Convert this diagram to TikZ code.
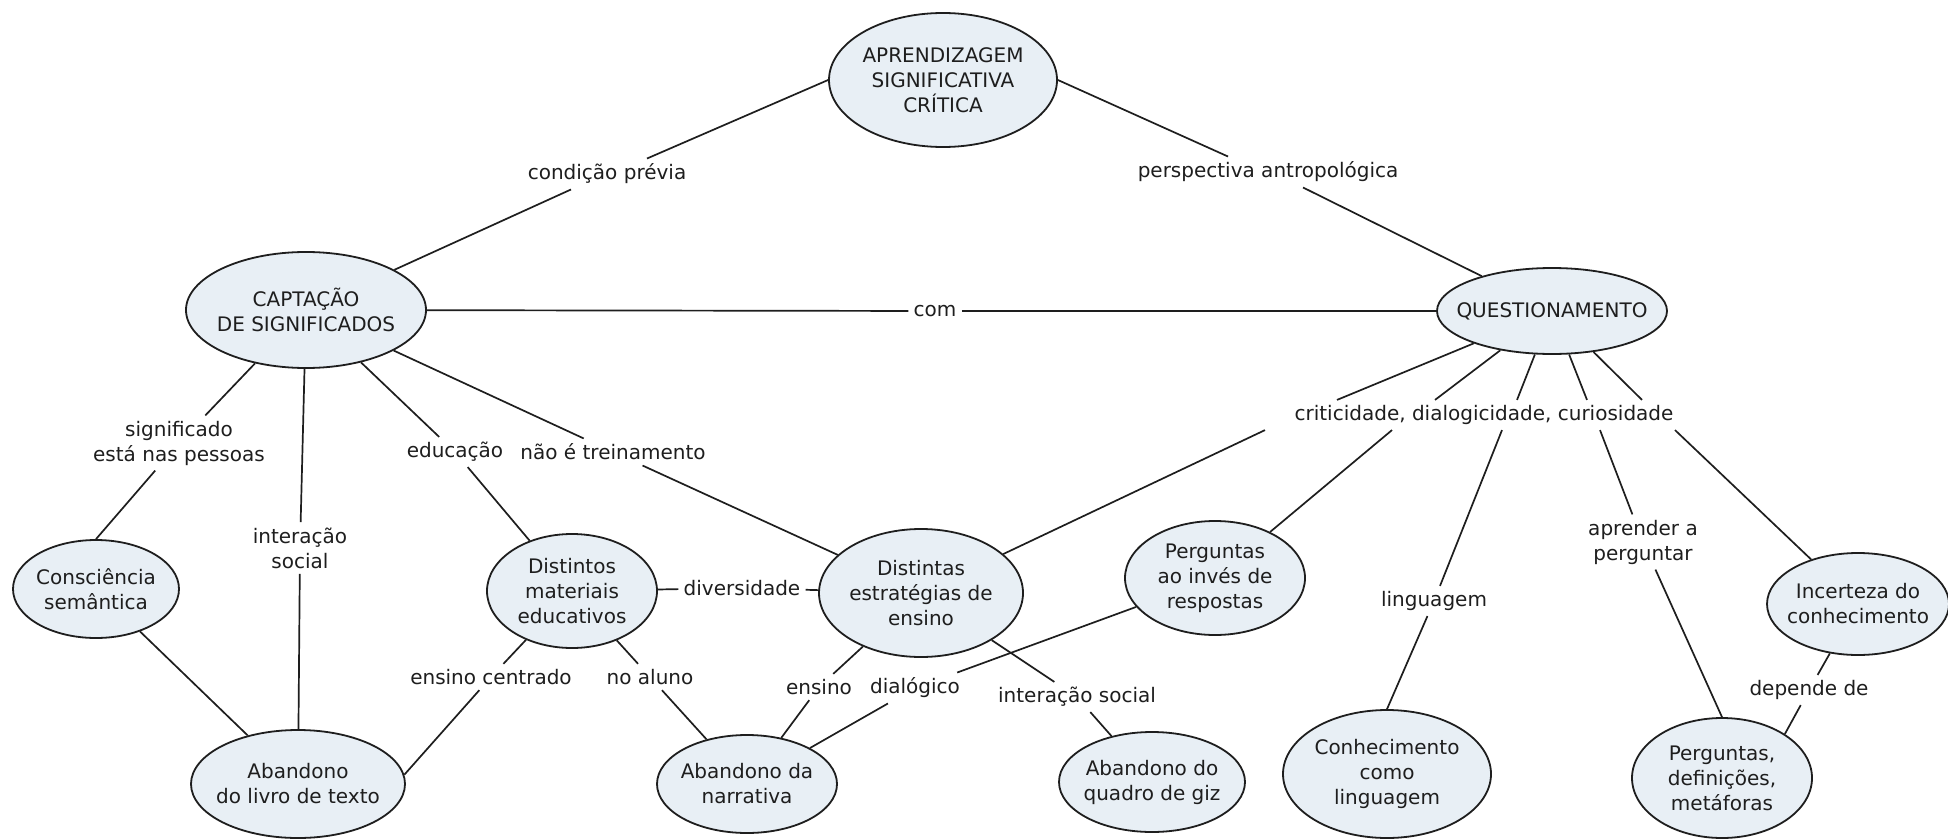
\documentclass[tikz,border=0pt]{standalone}
\usepackage{fontspec}
\setmainfont{DejaVu Sans}
\usetikzlibrary{shapes.geometric,calc}
\definecolor{conceptfill}{RGB}{232,239,245}
\definecolor{ink}{RGB}{30,30,30}

% concept: name, x, y, half width, half height, text
\newcommand\cmapconcept[6]{%
  \node[cshape, minimum width=#4pt, minimum height=#5pt] (#1) at (#2,#3) {};
  \node[ctext] (#1-t) at (#1.center) {#6};}

\begin{document}
\begin{tikzpicture}[x=0.5pt,y=-0.5pt,
  every node/.style={font=\fontsize{10pt}{12.5pt}\selectfont, text=ink},
  cshape/.style={ellipse, draw=ink, line width=0.9pt, fill=conceptfill, inner sep=0pt},
  ctext/.style={align=center, inner sep=0pt},
  link/.style={align=center, inner sep=2.5pt},
  conn/.style={draw=ink, line width=0.85pt}]
\useasboundingbox[fill=white] (0,0) rectangle (1948,840);

% concepts
\cmapconcept{apr}{943}{80}{114}{67}{APRENDIZAGEM\\SIGNIFICATIVA\\CRÍTICA}
\cmapconcept{cap}{306}{310}{120}{58}{CAPTAÇÃO\\DE SIGNIFICADOS}
\cmapconcept{q}{1552}{311}{115}{43}{QUESTIONAMENTO}
\cmapconcept{cons}{96}{589}{83}{49}{Consciência\\semântica}
\cmapconcept{livro}{298}{784}{107}{54}{Abandono\\do livro de texto}
\cmapconcept{mat}{572}{591}{85}{57}{Distintos\\materiais\\educativos}
\cmapconcept{est}{921}{593}{102}{64}{Distintas\\estratégias de\\ensino}
\cmapconcept{perg}{1215}{578}{90}{57}{Perguntas\\ao invés de\\respostas}
\cmapconcept{narr}{747}{784}{90}{49}{Abandono da\\narrativa}
\cmapconcept{quadro}{1152}{782}{93}{50}{Abandono do\\quadro de giz}
\cmapconcept{conh}{1387}{774}{104}{64}{Conhecimento\\como\\linguagem}
\cmapconcept{inc}{1858}{604}{91}{51}{Incerteza do\\conhecimento}
\cmapconcept{pdef}{1722}{778}{90}{60}{Perguntas,\\definições,\\metáforas}

% linking phrases
\node[link] (cond) at (607,174) {condição prévia};
\node[link] (persp) at (1268,172) {perspectiva antropológica};
\node[link] (com) at (935,311) {com};
\node[link] (sig) at (179,443) {significado\\está nas pessoas};
\node[link] (inter1) at (300,548) {interação\\social};
\node[link] (educ) at (455,452) {educação};
\node[link] (naoe) at (613,452) {não é treinamento};
\node[link] (crit) at (1484,415) {criticidade, dialogicidade, curiosidade};
\node[link] (divers) at (742,588) {diversidade};
\node[link] (ecent) at (491,677) {ensino centrado};
\node[link] (noal) at (650,677) {no aluno};
\node[link] (ens) at (819,687) {ensino};
\node[link] (dial) at (915,688) {dialógico};
\node[link] (inter2) at (1077,697) {interação social};
\node[link] (ling) at (1434,601) {linguagem};
\node[link] (apr2) at (1643,542) {aprender a\\perguntar};
\node[link] (dep) at (1809,690) {depende de};

% attachment points on the shared phrases
\coordinate (ca) at ($(cond.north)+(40,0)$);
\coordinate (cz) at ($(cond.south)+(-36,0)$);
\coordinate (pa) at ($(persp.north)+(-40,0)$);
\coordinate (pb) at ($(persp.south)+(35,0)$);
\foreach \i/\dx in {1/-147,2/-49,3/33,4/103,5/158}
  \coordinate (ct\i) at ($(crit.north)+(\dx,0)$);
\foreach \i/\dx in {1/-219,2/-92,3/18,4/116,5/191}
  \coordinate (cb\i) at ($(crit.south)+(\dx,0)$);

% connectors
\draw[conn] (ca) -- (apr.west);
\draw[conn] (cz) -- (cap);
\draw[conn] (apr.east) -- (pa);
\draw[conn] (pb) -- (q);
\draw[conn] (cap) -- (com);
\draw[conn] (com) -- (q);
\draw[conn] (cap) -- (sig);
\draw[conn] (sig) -- (cons.north);
\draw[conn] (cap) -- (inter1);
\draw[conn] (inter1) -- (livro);
\draw[conn] (cap) -- (educ);
\draw[conn] (educ) -- (mat);
\draw[conn] (cap) -- (naoe);
\draw[conn] (naoe) -- (est);
\draw[conn] (cons) -- (livro);
\draw[conn] (mat) -- (divers);
\draw[conn] (divers) -- (est);
\draw[conn] (mat) -- (ecent);
\draw[conn] (ecent) -- (livro.5);
\draw[conn] (mat) -- (noal);
\draw[conn] (noal) -- (narr);
\draw[conn] (est) -- (ens);
\draw[conn] (ens) -- (narr);
\draw[conn] (perg) -- (dial);
\draw[conn] (dial) -- (narr);
\draw[conn] (est) -- (inter2);
\draw[conn] (inter2) -- (quadro);
\foreach \i in {1,...,5} \draw[conn] (q) -- (ct\i);
\draw[conn] (cb1) -- (est);
\draw[conn] (cb2) -- (perg);
\draw[conn] (cb3) -- (ling);
\draw[conn] (cb4) -- (apr2);
\draw[conn] (cb5) -- (inc);
\draw[conn] (ling) -- (conh.north);
\draw[conn] (apr2) -- (pdef.north);
\draw[conn] (inc) -- (dep);
\draw[conn] (dep) -- (pdef.35);
\end{tikzpicture}
\end{document}
